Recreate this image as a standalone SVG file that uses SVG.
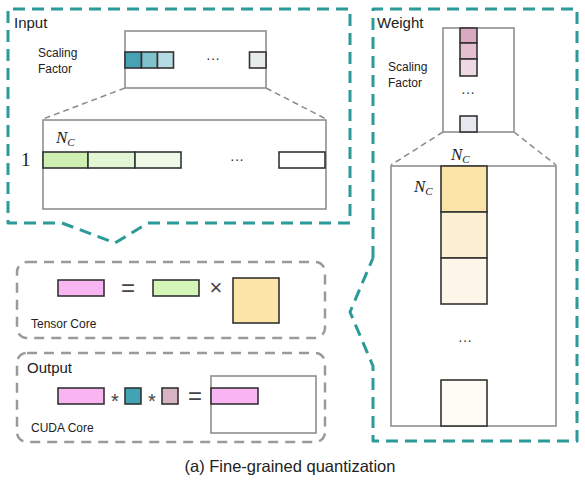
<svg xmlns="http://www.w3.org/2000/svg" width="585" height="488" viewBox="0 0 585 488">
<style>
.teal{fill:none;stroke:#2b9a98;stroke-width:3;stroke-dasharray:12 7;stroke-linejoin:round}
.gdash{fill:none;stroke:#9a9a9a;stroke-width:2.5;stroke-dasharray:10 7}
.thin{fill:none;stroke:#8a8a8a;stroke-width:1.5;stroke-dasharray:6 4}
.frame{fill:#fff;stroke:#8f8f8f;stroke-width:1.6}
.cell{stroke:#333;stroke-width:1.6}
.lbl{font-family:"Liberation Sans",Arial,sans-serif;fill:#222}
.math{font-family:"Liberation Serif","Times New Roman",serif;font-style:italic;fill:#222}
.dots{font-family:"Liberation Sans",Arial,sans-serif;fill:#333;font-size:14px;text-anchor:middle}
.op{font-family:"Liberation Sans",Arial,sans-serif;fill:#444;text-anchor:middle}
</style>
<rect width="585" height="488" fill="#fff"/>

<g id="connectors">
<path class="teal" d="M148 223 L350 223 L350 9 L8 9 L8 223 L62 223 L115 243 L148 223"/>
<path class="teal" d="M373 258 L373 9 L577 9 L577 441 L373 441 L373 366 L350 312 L373 258"/>
<rect class="gdash" x="17" y="262" width="308" height="76" rx="10"/>
<rect class="gdash" x="17" y="353" width="308" height="89" rx="10"/>
<line class="thin" x1="125" y1="88" x2="43" y2="119"/>
<line class="thin" x1="266" y1="88" x2="326" y2="119"/>
<line class="thin" x1="443" y1="132" x2="391" y2="165"/>
<line class="thin" x1="514" y1="132" x2="556" y2="165"/>
</g>

<g id="input">
<text class="lbl" x="14" y="28" font-size="15">Input</text>
<text class="lbl" x="38" y="57" font-size="12">Scaling</text>
<text class="lbl" x="38" y="73" font-size="12">Factor</text>
<rect class="frame" x="125" y="31" width="141" height="57"/>
<rect class="cell" x="125" y="52" width="16.5" height="16" fill="#47a3b4"/>
<rect class="cell" x="141.5" y="52" width="16" height="16" fill="#80c2cc"/>
<rect class="cell" x="157.5" y="52" width="16" height="16" fill="#b5dce3"/>
<text class="dots" x="213" y="63">···</text>
<rect class="cell" x="249.5" y="52" width="16.5" height="16" fill="#e7ebec"/>
<rect class="frame" x="43" y="120" width="283" height="89"/>
<text class="math" x="56" y="143" font-size="17">N<tspan font-size="11" dy="3">C</tspan></text>
<text x="21" y="166" font-family="Liberation Serif,serif" font-size="19" fill="#222">1</text>
<rect class="cell" x="43" y="152" width="45" height="16" fill="#cdf0b2"/>
<rect class="cell" x="88" y="152" width="47" height="16" fill="#e3f6d4"/>
<rect class="cell" x="135" y="152" width="46" height="16" fill="#eff9e7"/>
<text class="dots" x="237" y="164">···</text>
<rect class="cell" x="279" y="152" width="46" height="16" fill="#fff"/>
</g>

<g id="weight">
<text class="lbl" x="377" y="28" font-size="15">Weight</text>
<text class="lbl" x="388" y="71" font-size="12">Scaling</text>
<text class="lbl" x="388" y="87" font-size="12">Factor</text>
<rect class="frame" x="443" y="28" width="71" height="104"/>
<rect class="cell" x="460" y="28" width="17" height="15" fill="#d9aabf"/>
<rect class="cell" x="460" y="43" width="17" height="16" fill="#e3bfcf"/>
<rect class="cell" x="460" y="59" width="17" height="17" fill="#eed9e2"/>
<text class="dots" x="468" y="97">···</text>
<rect class="cell" x="460" y="116" width="17" height="16" fill="#e6e8ee"/>
<rect class="frame" x="391" y="166" width="165" height="260"/>
<text class="math" x="451" y="160" font-size="17">N<tspan font-size="11" dy="3">C</tspan></text>
<text class="math" x="414" y="192" font-size="17">N<tspan font-size="11" dy="3">C</tspan></text>
<rect class="cell" x="441" y="166" width="46" height="46" fill="#fbe4a8"/>
<rect class="cell" x="441" y="212" width="46" height="46" fill="#fdf0d2"/>
<rect class="cell" x="441" y="258" width="46" height="46" fill="#fef7e9"/>
<text class="dots" x="465" y="345">···</text>
<rect class="cell" x="441" y="380" width="46" height="46" fill="#fffcf4"/>
</g>

<g id="tensor-core">
<rect class="cell" x="58" y="280" width="46" height="16" fill="#f8b5f1"/>
<text class="op" x="128" y="296" font-size="24">=</text>
<rect class="cell" x="153" y="280" width="46" height="16" fill="#d6f5b9"/>
<text class="op" x="216" y="295" font-size="22">×</text>
<rect class="cell" x="233" y="278" width="46" height="45" fill="#fde5a8"/>
<text class="lbl" x="31" y="328" font-size="12">Tensor Core</text>
</g>

<g id="output">
<text class="lbl" x="27" y="373" font-size="15">Output</text>
<rect class="cell" x="58" y="388" width="46" height="16" fill="#f8b5f1"/>
<text class="op" x="115" y="408" font-size="20">*</text>
<rect class="cell" x="125" y="388" width="16" height="16" fill="#40a4b5"/>
<text class="op" x="152" y="408" font-size="20">*</text>
<rect class="cell" x="162" y="388" width="16" height="16" fill="#d8b3c2"/>
<text class="op" x="195" y="404" font-size="24">=</text>
<rect class="frame" x="211" y="376" width="105" height="57"/>
<rect class="cell" x="211" y="388" width="47" height="16" fill="#f8b5f1"/>
<text class="lbl" x="31" y="432" font-size="12">CUDA Core</text>
</g>

<text class="lbl" x="290" y="472" font-size="16.5" text-anchor="middle">(a) Fine-grained quantization</text>
</svg>
